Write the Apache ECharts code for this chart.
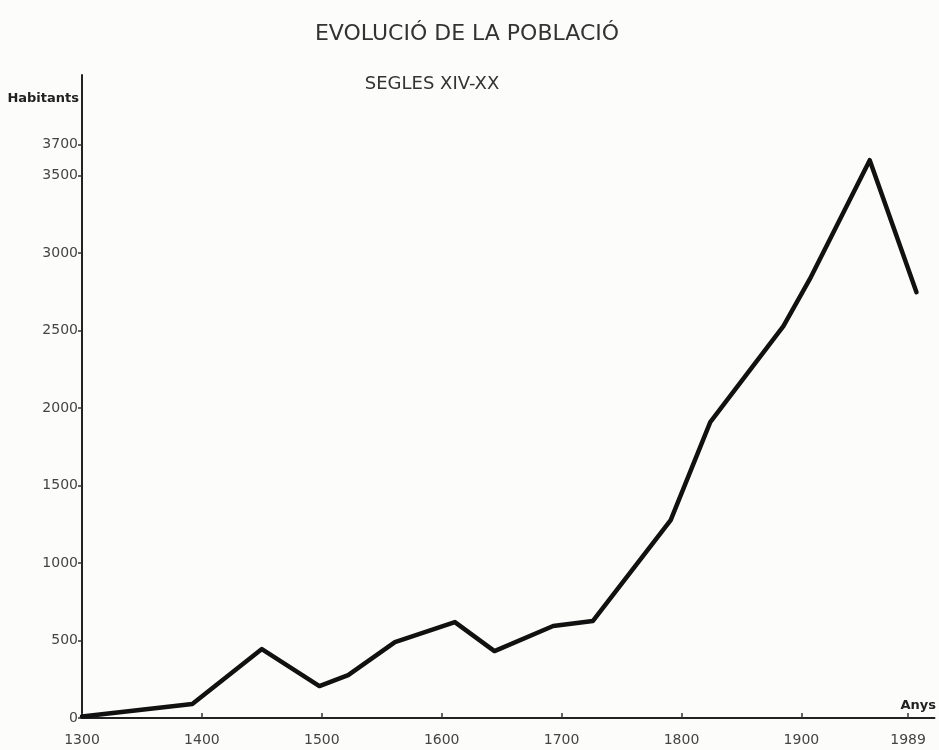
<!DOCTYPE html>
<html>
<head>
<meta charset="utf-8">
<script src="https://cdn.jsdelivr.net/npm/echarts@6/dist/echarts.min.js"></script>
<style>
html,body{margin:0;padding:0;background:#fcfcfb;}
#chart{width:939px;height:750px;}
</style>
</head>
<body>
<div id="chart"></div>
<script>
// Data
const years = [1300, 1392, 1450, 1498, 1522, 1561, 1611, 1644, 1693, 1726, 1791, 1824, 1885, 1907, 1957, 1996];
const habitants = [10, 90, 445, 206, 277, 490, 619, 432, 594, 626, 1277, 1910, 2529, 2832, 3600, 2748];
const xTickLabels = [1300, 1400, 1500, 1600, 1700, 1800, 1900, 1989];
const yTickLabels = [0, 500, 1000, 1500, 2000, 2500, 3000, 3500, 3700];
const titleText = 'EVOLUCIÓ DE LA POBLACIÓ';
const subtitleText = 'SEGLES XIV-XX';
const yName = 'Habitants';
const xName = 'Anys';

const chart = echarts.init(document.getElementById('chart'));
chart.setOption({
  animation: false,
  backgroundColor: '#fcfcfb',
  title: [
    { text: titleText, left: 462, top: 18, textAlign: 'center',
      textStyle: { fontFamily: 'DejaVu Sans', fontSize: 22, fontWeight: 'normal', color: '#333' } },
    { text: subtitleText, left: 427, top: 70, textAlign: 'center',
      textStyle: { fontFamily: 'DejaVu Sans', fontSize: 18, fontWeight: 'normal', color: '#333' } }
  ],
  grid: { left: 82, right: 0, top: 75, bottom: 32, containLabel: false },
  xAxis: {
    type: 'value', min: 1300, max: 2011,
    name: xName, nameLocation: 'end', nameGap: -34,
    nameTextStyle: { fontFamily: 'DejaVu Sans', fontSize: 13, fontWeight: 'bold', color: '#222',
      verticalAlign: 'bottom', align: 'left', padding: [0, 0, 6, 0] },
    axisLine: { show: true, lineStyle: { color: '#222', width: 2 } },
    axisTick: { show: true, inside: true, length: 5, customValues: xTickLabels, lineStyle: { color: '#333', width: 1.5 } },
    axisLabel: { customValues: xTickLabels, margin: 15, fontFamily: 'DejaVu Sans', fontSize: 14, color: '#444',
      formatter: v => String(v) },
    splitLine: { show: false }
  },
  yAxis: {
    type: 'value', min: 0, max: 4150,
    name: yName, nameLocation: 'end', nameGap: -30,
    nameTextStyle: { fontFamily: 'DejaVu Sans', fontSize: 13, fontWeight: 'bold', color: '#222',
      align: 'right', verticalAlign: 'bottom', padding: [0, 3, 0, 0] },
    axisLine: { show: true, lineStyle: { color: '#222', width: 2 } },
    axisTick: { show: true, inside: false, length: 4, customValues: yTickLabels, lineStyle: { color: '#333', width: 1.5 } },
    axisLabel: { customValues: yTickLabels, margin: 4, fontFamily: 'DejaVu Sans', fontSize: 14, color: '#444',
      formatter: v => String(v) },
    splitLine: { show: false }
  },
  series: [{
    type: 'line',
    data: years.map((y, i) => [y, habitants[i]]),
    showSymbol: false,
    lineStyle: { color: '#111', width: 4.5, join: 'round', cap: 'round' },
    smooth: false
  }]
});
</script>
</body>
</html>
